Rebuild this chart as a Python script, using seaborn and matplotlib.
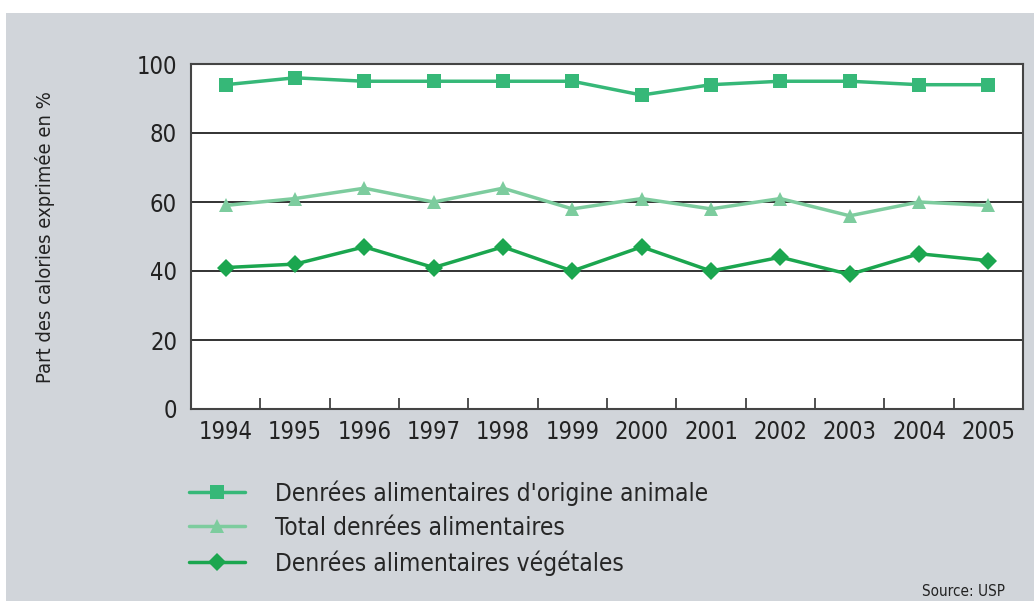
import matplotlib
matplotlib.use("Agg")
import matplotlib.pyplot as plt
import seaborn as sns
import pandas as pd
from matplotlib.patches import Rectangle

years = list(range(1994, 2006))
animal = [94, 96, 95, 95, 95, 95, 91, 94, 95, 95, 94, 94]
total = [59, 61, 64, 60, 64, 58, 61, 58, 61, 56, 60, 59]
vegetal = [41, 42, 47, 41, 47, 40, 47, 40, 44, 39, 45, 43]

labels = [
    "Denrées alimentaires d'origine animale",
    "Total denrées alimentaires",
    "Denrées alimentaires végétales",
]
colors = ["#36b878", "#7dcc9e", "#1ba64f"]
markers = ["s", "^", "D"]
msizes = [10, 10, 9]

sns.set_theme(style="white")
plt.rcParams["font.family"] = ["DejaVu Sans"]
plt.rcParams["font.stretch"] = "condensed"

fig = plt.figure(figsize=(10.34, 6.01), dpi=100)
# grey panel behind everything, white strip on top and left
fig.patches.append(Rectangle((6 / 1034, 0), 1, 588 / 601, transform=fig.transFigure,
                             facecolor="#d1d5da", edgecolor="none", zorder=-10))
ax = fig.add_axes([191 / 1034, 192 / 601, 832 / 1034, 345 / 601])
ax.set_facecolor("white")

series = [animal, total, vegetal]
for vals, lab, col, mk, ms in zip(series, labels, colors, markers, msizes):
    df = pd.DataFrame({"year": years, "value": vals})
    sns.lineplot(data=df, x="year", y="value", ax=ax, color=col, marker=mk,
                 markersize=ms, markeredgewidth=0, linewidth=2.5, label=lab)

ax.set_xlim(1993.5, 2005.5)
ax.set_ylim(0, 100)
ax.set_yticks([0, 20, 40, 60, 80, 100])
ax.set_xticks(years)
ax.set_xticks([y + 0.5 for y in years[:-1]], minor=True)
ax.tick_params(axis="x", which="major", length=0, labelsize=17, pad=8, colors="#222222")
ax.tick_params(axis="x", which="minor", length=8, width=1.2, direction="in",
               bottom=True, color="#333333")
ax.tick_params(axis="y", length=0, labelsize=17, pad=10, colors="#222222")
ax.yaxis.grid(True, color="#222222", linewidth=1.3)
ax.set_axisbelow(True)
for s in ax.spines.values():
    s.set_color("#444444")
    s.set_linewidth(1.5)
ax.set_xlabel("")
ax.set_ylabel("")
fig.text(45 / 1034, (601 - 237) / 601, "Part des calories exprimée en %", rotation=90,
         ha="center", va="center", fontsize=14.5, color="#222222")

ax.legend(loc="upper left", bbox_to_anchor=(189 / 1034, 121 / 601),
          bbox_transform=fig.transFigure, frameon=False, fontsize=17.6,
          handlelength=2.3, handletextpad=1.2, labelspacing=0.42,
          borderaxespad=0, borderpad=0)

fig.text(1005 / 1034, 10 / 601, "Source: USP", ha="right", va="center",
         fontsize=11, color="#222222")

fig.savefig("out.png", dpi=100)
